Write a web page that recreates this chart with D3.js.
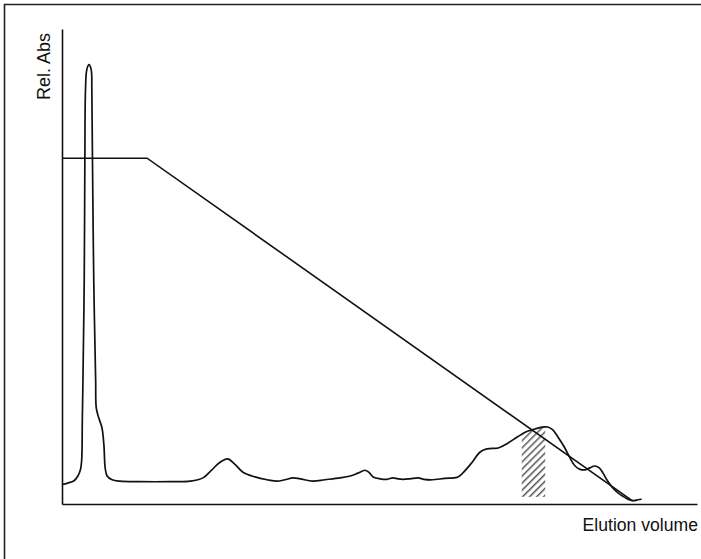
<!DOCTYPE html>
<html><head><meta charset="utf-8">
<script src="https://cdn.jsdelivr.net/npm/d3@7/dist/d3.min.js"></script>
<style>html,body{margin:0;padding:0;background:#fff;}svg{display:block;}</style>
</head><body>
<script>
// Chromatogram (absorbance) trace: elution volume (x, 0-100) vs relative absorbance (y, 0-100)
const traceX = [0,0.9,1.9,2.5,2.9,3.1,3.2,3.3,3.5,3.6,3.7,3.9,4.25,4.6,4.7,4.8,5.0,5.3,5.4,5.8,6.3,6.6,6.8,7.1,7.9,9.1,12.3,17.0,20.2,22.2,23.6,24.9,26.1,27.2,28.5,30.4,32.3,33.9,35.1,36.4,37.5,39.5,41.4,43.8,45.4,46.6,47.7,48.3,49.0,50.1,51.2,52.1,52.9,53.7,54.8,56.1,57.0,58.3,60.3,62.2,63.1,64.6,65.8,66.9,68.7,70.2,71.7,73.1,74.5,75.6,76.5,77.3,78.1,79.1,80.0,80.8,81.6,82.4,83.1,83.9,84.6,85.2,85.8,86.6,87.6,88.5,89.3,90.1,90.7,91.3];
const traceY = [4.1,4.4,4.9,5.9,7.2,9.3,17.7,26.1,47.2,72.4,87.2,91.4,92.5,91.4,87.2,72.4,47.2,26.1,20.2,18.1,16.0,12.4,7.6,5.9,5.1,4.8,4.7,4.7,4.8,5.5,7.2,8.8,9.5,8.4,6.7,5.7,5.1,4.8,5.1,5.5,5.3,4.8,5.1,5.5,5.9,6.5,7.1,6.7,5.7,5.3,5.2,5.5,5.3,5.2,5.3,5.5,5.2,5.1,5.4,5.6,6.5,8.8,10.9,11.6,11.8,12.8,14.1,15.2,15.8,16.2,16.2,15.6,14.1,12.0,9.7,8.0,7.3,7.2,7.6,8.0,7.6,6.5,5.1,3.6,2.3,1.5,0.9,0.7,0.9,1.0];
// Elution gradient
const gradientX = [0, 13.4, 89.9];
const gradientY = [72.8, 72.8, 0.6];
// Collected (hatched) fraction
const fractionX = [72.4, 76.1];
const fractionBottom = 1.5;
// Axis titles
const xTitle = "Elution volume";
const yTitle = "Rel. Abs";

const W = 701, H = 559;
const svg = d3.select("body").append("svg").attr("width", W).attr("height", H);

// outer frame
svg.append("path").attr("d", "M4.5,800V4.5H800").attr("fill","none").attr("stroke","#222").attr("stroke-width",1.6);

const x = d3.scaleLinear().domain([0,100]).range([62,697]);
const y = d3.scaleLinear().domain([0,100]).range([504,29]);

const trace = traceX.map((v,i)=>({x:v,y:traceY[i]}));
const grad = gradientX.map((v,i)=>({x:v,y:gradientY[i]}));

// hatch pattern
const defs = svg.append("defs");
const pat = defs.append("pattern").attr("id","hatch").attr("patternUnits","userSpaceOnUse")
  .attr("width",5).attr("height",5).attr("patternTransform","rotate(45)");
pat.append("line").attr("x1",0.8).attr("y1",0).attr("x2",0.8).attr("y2",5).attr("stroke","#222").attr("stroke-width",1.15);

const lineGen = d3.line().x(d=>x(d.x)).y(d=>y(d.y)).curve(d3.curveCatmullRom.alpha(0.5));

// area under trace in fraction range
const clip = defs.append("clipPath").attr("id","underTrace");
clip.append("path").attr("d", d3.area().x(d=>x(d.x)).y0(y(fractionBottom)).y1(d=>y(d.y)).curve(d3.curveCatmullRom.alpha(0.5))(trace));
svg.append("rect").attr("x",x(fractionX[0])).attr("width",x(fractionX[1])-x(fractionX[0]))
  .attr("y",y(100)).attr("height",y(fractionBottom)-y(100))
  .attr("fill","url(#hatch)").attr("clip-path","url(#underTrace)");

// axes (plain lines, no ticks)
const xAxis = d3.axisBottom(x).tickValues([]).tickSizeOuter(0);
const yAxis = d3.axisLeft(y).tickValues([]).tickSizeOuter(0);
svg.append("g").attr("transform",`translate(0,${y(0)})`).call(xAxis)
  .call(g=>g.select(".domain").attr("stroke","#111").attr("stroke-width",1.6));
svg.append("g").attr("transform",`translate(${x(0)},0)`).call(yAxis)
  .call(g=>g.select(".domain").attr("stroke","#111").attr("stroke-width",1.6));

// gradient line
svg.append("path").attr("d", d3.line().x(d=>x(d.x)).y(d=>y(d.y))(grad))
  .attr("fill","none").attr("stroke","#111").attr("stroke-width",1.6);

// trace
svg.append("path").attr("d", lineGen(trace)).attr("fill","none").attr("stroke","#111").attr("stroke-width",1.7);

// titles
svg.append("text").attr("x",698).attr("y",531).attr("text-anchor","end")
  .attr("font-family","Liberation Sans, Arial, sans-serif").attr("font-size",17.6).attr("fill","#111").text(xTitle);
svg.append("text").attr("transform","translate(49.5,33) rotate(-90)").attr("text-anchor","end")
  .attr("font-family","Liberation Sans, Arial, sans-serif").attr("font-size",18).attr("fill","#111").text(yTitle);
</script>
</body></html>
